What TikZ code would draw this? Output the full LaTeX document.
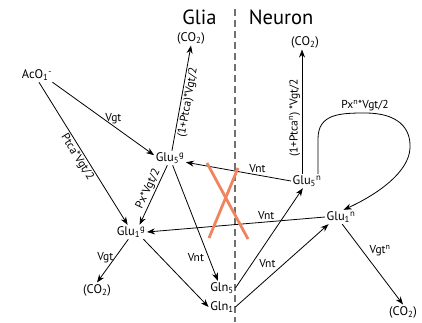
\documentclass[tikz,border=0pt]{standalone}
\usepackage{fontspec}
\setmainfont{PT Sans}
\usetikzlibrary{arrows.meta,calc}
\definecolor{crossred}{RGB}{240,132,95}
\definecolor{dashgray}{RGB}{112,112,112}
\begin{document}
\begin{tikzpicture}[x=1pt,y=-1pt,
  mol/.style={font=\fontsize{12.5}{14}\selectfont, inner sep=1.5pt},
  lbl/.style={font=\fontsize{11.5}{13}\selectfont, inner sep=1.5pt},
  ttl/.style={font=\fontsize{20.5}{24}\selectfont, inner sep=0pt},
  arr/.style={-{Stealth[length=8pt,width=6pt]}, line width=0.8pt},
  divider/.style={dashgray, line width=2.2pt, dash pattern=on 7pt off 4pt},
  xline/.style={crossred, line width=2.8pt}]
\useasboundingbox (0,0) rectangle (422,322);

% titles and divider
\node[ttl] (glia) at (199.5,17) {Glia};
\node[ttl] (neuron) at (281,17) {Neuron};
\draw[divider] (235,9) -- (235,322);

% molecules
\node[mol] (aco)   at (37,75)   {AcO\textsubscript{1}\textsuperscript{-}};
\node[mol] (co2a)  at (191,38)  {(CO\textsubscript{2})};
\node[mol] (glu5g) at (170,158) {Glu\textsubscript{5}\textsuperscript{g}};
\node[mol] (glu1g) at (131,232) {Glu\textsubscript{1}\textsuperscript{g}};
\node[mol] (co2b)  at (97,290)  {(CO\textsubscript{2})};
\node[mol] (gln5)  at (222,288) {Gln\textsubscript{5}};
\node[mol] (gln1)  at (222,307) {Gln\textsubscript{1}};
\node[mol] (co2c)  at (305,42)  {(CO\textsubscript{2})};
\node[mol] (glu5n) at (307,181) {Glu\textsubscript{5}\textsuperscript{n}};
\node[mol] (glu1n) at (341,217) {Glu\textsubscript{1}\textsuperscript{n}};
\node[mol] (co2d)  at (403,312) {(CO\textsubscript{2})};

% glia arrows
\draw[arr] (aco.-25) -- node[lbl, above, pos=0.6] (l1) {Vgt} (glu5g.170);
\draw[arr] (aco.-75) -- node[lbl, below, sloped, pos=0.5] (l2) {Ptca*Vgt/2} (glu1g.115);
\draw[arr] (glu5g.75) -- node[lbl, below, sloped, pos=0.47] (l3) {(1+Ptca)*Vgt/2} (co2a.south);
\draw[arr] (glu5g.-110) -- node[lbl, above, sloped, pos=0.45] (l4) {Px*Vgt/2} (glu1g.40);
\draw[arr] (glu5g.-70) -- node[lbl, left=3pt, pos=0.8] (l5) {Vnt} (gln5.120);
\draw[arr] (glu1g.-30) -- (gln1.west);
\draw[arr] (glu1g.-110) -- node[lbl, left, pos=0.42] (l6) {Vgt} (co2b.north);

% neuron to glia
\draw[arr] (glu5n.west) -- node[lbl, above, pos=0.32] (l7) {Vnt} (glu5g.-15);
\draw[arr] (glu1n.west) -- node[lbl, above, pos=0.33] (l8) {Vnt} (glu1g.east);

% glia to neuron
\draw[arr] (gln5.east) -- (glu5n.-120);
\draw[arr] (gln1.east) -- node[lbl, above left, pos=0.45] (l9) {Vnt} (glu1n.-150);

% neuron arrows
\draw[arr] ([xshift=-5pt]glu5n.north) -- node[lbl, above, sloped, pos=0.45] (l10) {(1+Ptca\textsuperscript{n}) *Vgt/2} ([xshift=-5pt]glu5n.north |- co2c.south);
\draw[arr] ([xshift=11pt]glu5n.north) -- ++(0,-35)
   .. controls +(0,-25) and (340,113) .. (365,113) node[lbl, above] (l11) {Px\textsuperscript{n}*Vgt/2}
   .. controls (398,113) and (411,128) .. (410,148)
   .. controls (409,172) and (378,194) .. (glu1n.70);
\draw[arr] (glu1n.-80) -- node[lbl, above right, pos=0.42] (l12) {Vgt\textsuperscript{n}} (co2d.north);

% the cross
\draw[xline] (207,163) -- (248,239);
\draw[xline] (238,168) -- (209,238);
\end{tikzpicture}
\end{document}
